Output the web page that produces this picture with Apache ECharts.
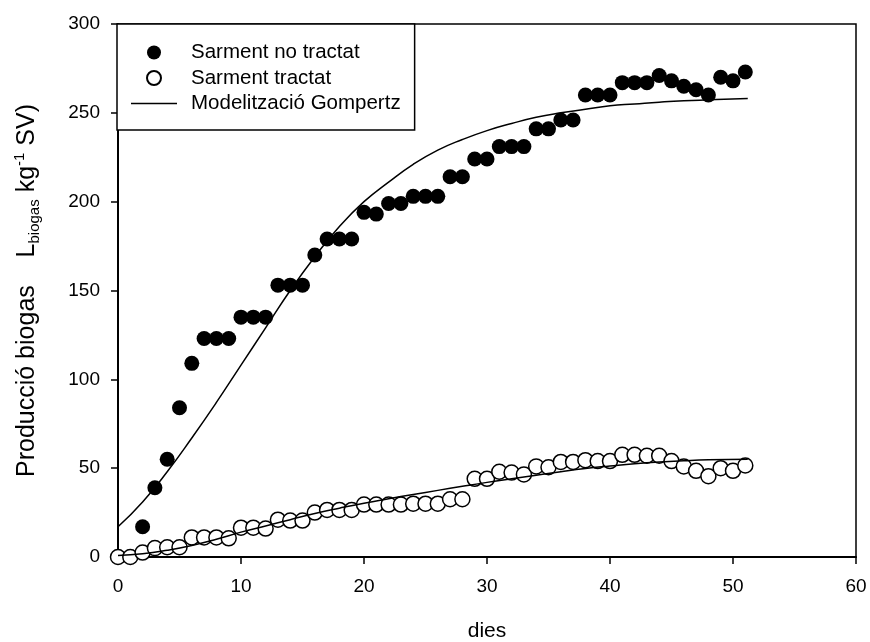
<!DOCTYPE html>
<html>
<head>
<meta charset="utf-8">
<script src="https://cdn.jsdelivr.net/npm/echarts@6/dist/echarts.min.js"></script>
<style>
  html, body { margin: 0; padding: 0; background: #fff; }
  #chart { width: 870px; height: 642px; }
</style>
</head>
<body>
<div id="chart"></div>
<script>
// dies (x) and measured biogas production
const diesNoTractat = [2,3,4,5,6,7,8,9,10,11,12,13,14,15,16,17,18,19,20,21,22,23,24,25,26,27,28,29,30,31,32,33,34,35,36,37,38,39,40,41,42,43,44,45,46,47,48,49,50,51];
const sarmentNoTractat = [17,39,55,84,109,123,123,123,135,135,135,153,153,153,170,179,179,179,194,193,199,199,203,203,203,214,214,224,224,231,231,231,241,241,246,246,260,260,260,267,267,267,271,268,265,263,260,270,268,273];

const diesTractat = [0,1,2,3,4,5,6,7,8,9,10,11,12,13,14,15,16,17,18,19,20,21,22,23,24,25,26,27,28,29,30,31,32,33,34,35,36,37,38,39,40,41,42,43,44,45,46,47,48,49,50,51];
const sarmentTractat = [0,0,2.5,5,5.5,5.5,11,11,11,10.5,16.5,16.5,16,21,20.5,20.5,25,26.5,26.5,26.5,29.5,29.5,29.5,29.5,30,30,30,32.5,32.5,44,44,48,47.5,46.5,51,50.5,53.5,53.5,54.5,54,54,57.5,57.5,57,57,54,51,48.5,45.5,50,48.5,51.5];

// Gompertz curves
const diesModel = [0,2,4,6,8,10,12,14,16,18,20,22,24,26,28,30,32,34,36,38,40,42,44,46,48,51.2];
const modelNoTractat = [17,31,48,67,87,108,129,150,169,186,200,211,221,229,235,240,244,247.5,250,252,254,255,256,256.8,257.3,258];
const modelTractat = [0.8,1.8,3.8,6.5,10,14,17.5,21,24.5,27.5,30.3,32.8,35.2,37.5,39.8,42,44,46,48,49.8,51.2,52.5,53.5,54.2,54.7,55];

const xTicks = { min: 0, max: 60, interval: 10 };
const yTicks = { min: 0, max: 300, interval: 50 };

const zip = (xs, ys) => xs.map((x, i) => [x, ys[i]]);

const FONT = "Liberation Sans";
const chart = echarts.init(document.getElementById("chart"));

const options = {
  animation: false,
  textStyle: { fontFamily: FONT, color: "#000" },
  grid: {
    left: 118, right: 14, top: 24, bottom: 85,
    outerBoundsMode: "none",
    show: true, borderColor: "#000", borderWidth: 1.5, backgroundColor: "transparent",
  },
  legend: {
    orient: "vertical",
    left: 117,
    top: 24,
    padding: [18, 14, 16, 14],
    itemGap: 4.5,
    itemWidth: 46,
    itemHeight: 14,
    backgroundColor: "#fff",
    borderColor: "#000",
    borderWidth: 1.5,
    borderRadius: 0,
    textStyle: { fontFamily: FONT, fontSize: 20.5, color: "#000", padding: [0, 0, 0, 9] },
    data: [
      { name: "Sarment no tractat", icon: "circle" },
      { name: "Sarment tractat", icon: "circle" },
      { name: "Modelització Gompertz", icon: "path://M0,0H100V3H0Z" },
    ],
  },
  xAxis: {
    type: "value",
    min: xTicks.min, max: xTicks.max, interval: xTicks.interval,
    name: "dies",
    nameLocation: "middle",
    nameGap: 64,
    nameTextStyle: { fontFamily: FONT, fontSize: 21, color: "#000" },
    axisLine: { onZero: false, lineStyle: { color: "#000", width: 2 } },
    axisTick: { show: true, length: 7, lineStyle: { color: "#000", width: 1.5 } },
    axisLabel: { fontFamily: FONT, fontSize: 19, color: "#000", margin: 20 },
    splitLine: { show: false },
  },
  yAxis: {
    type: "value",
    min: yTicks.min, max: yTicks.max, interval: yTicks.interval,
    name: "{a|Producció biogas    L}{sub|biogas}{a| kg}{sup|-1}{a| SV)}",
    nameLocation: "middle",
    nameRotate: 90,
    nameGap: 76,
    nameTextStyle: {
      rich: {
        a: { fontFamily: FONT, fontSize: 25, color: "#000", lineHeight: 30, verticalAlign: "middle" },
        sub: { fontFamily: FONT, fontSize: 15, color: "#000", lineHeight: 30, verticalAlign: "bottom", padding: [12, 0, 0, 0] },
        sup: { fontFamily: FONT, fontSize: 15, color: "#000", lineHeight: 30, verticalAlign: "top", padding: [0, 0, 12, 0] },
      },
    },
    axisLine: { onZero: false, lineStyle: { color: "#000", width: 2 } },
    axisTick: { show: true, length: 7, lineStyle: { color: "#000", width: 1.5 } },
    axisLabel: { fontFamily: FONT, fontSize: 19, color: "#000", margin: 18 },
    splitLine: { show: false },
  },
  series: [
    {
      name: "Sarment no tractat",
      type: "scatter",
      symbol: "circle",
      symbolSize: 15,
      itemStyle: { color: "#000", opacity: 1 },
      data: zip(diesNoTractat, sarmentNoTractat),
      z: 2,
    },
    {
      name: "Sarment tractat",
      type: "scatter",
      symbol: "circle",
      symbolSize: 15,
      itemStyle: { color: "#fff", borderColor: "#000", borderWidth: 1.5, opacity: 1 },
      data: zip(diesTractat, sarmentTractat),
      z: 2,
    },
    {
      name: "Modelització Gompertz",
      type: "line",
      symbol: "none",
      smooth: true,
      lineStyle: { color: "#000", width: 1.5 },
      itemStyle: { color: "#000" },
      data: zip(diesModel, modelNoTractat),
      z: 3,
    },
    {
      name: "Modelització Gompertz",
      type: "line",
      symbol: "none",
      smooth: true,
      lineStyle: { color: "#000", width: 1.5 },
      itemStyle: { color: "#000" },
      data: zip(diesModel, modelTractat),
      z: 3,
    },
  ],
};

chart.setOption(options);
</script>
</body>
</html>
